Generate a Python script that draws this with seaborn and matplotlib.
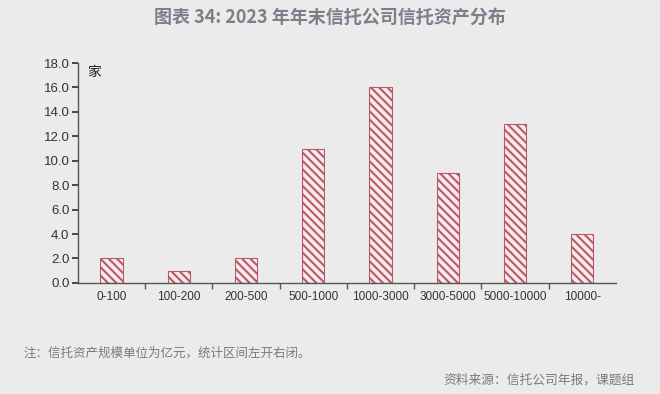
import matplotlib
matplotlib.use('Agg')
import matplotlib.pyplot as plt
import seaborn as sns
from matplotlib.ticker import FormatStrFormatter

# 数据
categorias = ['0-100', '100-200', '200-500', '500-1000', '1000-3000',
              '3000-5000', '5000-10000', '10000-']
num_empresas = [2, 1, 2, 11, 16, 9, 13, 4]

sns.set_theme(style='white')
plt.rcParams['font.family'] = ['Liberation Sans', 'Noto Sans CJK SC', 'DejaVu Sans']
plt.rcParams['hatch.linewidth'] = 1.5
plt.rcParams['hatch.color'] = '#963a4c'

fondo = '#ebebeb'
fig = plt.figure(figsize=(6.6, 3.94), dpi=100, facecolor=fondo)
ax = fig.add_axes([0.118, 0.282, 0.815, 0.558])
ax.set_facecolor(fondo)

sns.barplot(x=categorias, y=num_empresas, ax=ax, color='#fbe6e8', width=0.33,
            edgecolor='#b85a6a', linewidth=0.8, hatch='\\\\\\\\')

ax.set_ylim(0, 18)
ax.set_yticks(range(0, 19, 2))
ax.yaxis.set_major_formatter(FormatStrFormatter('%.1f'))
ax.set_xlim(-0.5, 7.5)
ax.set_xticks([i + 0.5 for i in range(7)], minor=True)
ax.tick_params(axis='x', which='major', length=0, labelsize=8.5, colors='#333333', pad=6)
ax.tick_params(axis='x', which='minor', length=4, direction='out', color='#555555', bottom=True)
ax.tick_params(axis='y', length=4, direction='out', labelsize=9.5, colors='#333333', pad=2,
               left=True)
ax.set_xlabel('')
ax.set_ylabel('')
for lado in ['top', 'right']:
    ax.spines[lado].set_visible(False)
for lado in ['left', 'bottom']:
    ax.spines[lado].set_color('#555555')
    ax.spines[lado].set_linewidth(1.0)

ax.text(0.018, 0.99, '家', transform=ax.transAxes, fontsize=10, va='top', ha='left',
        family=['Noto Sans CJK SC'], color='#222222')

fig.text(0.5, 0.955, '图表 34: 2023 年年末信托公司信托资产分布', ha='center', va='center',
         fontsize=13, fontweight='bold', color='#7a7f8a',
         family=['Noto Sans CJK SC', 'DejaVu Sans'])
fig.text(0.036, 0.103, '注：信托资产规模单位为亿元，统计区间左开右闭。', ha='left', va='center',
         fontsize=9, color='#7a7a7a', family=['Noto Sans CJK SC'])
fig.text(0.962, 0.035, '资料来源：信托公司年报，课题组', ha='right', va='center',
         fontsize=9.2, color='#7a7a7a', family=['Noto Sans CJK SC'])

plt.savefig('out.png', dpi=100, facecolor=fondo)
plt.close()
